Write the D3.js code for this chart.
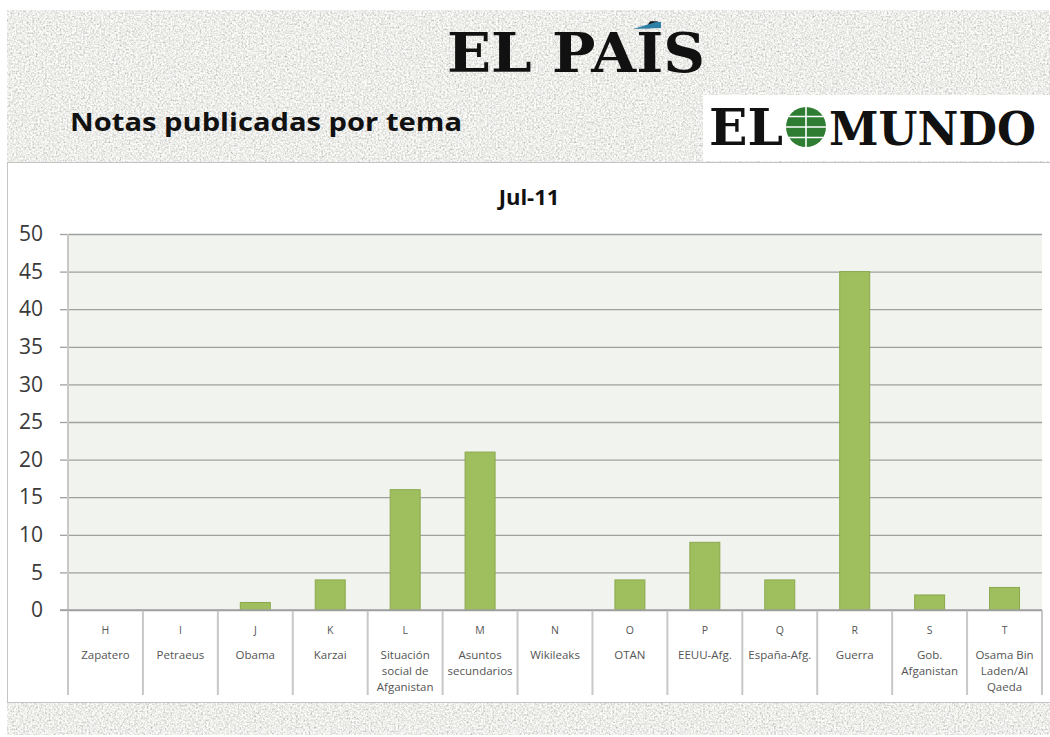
<!DOCTYPE html>
<html>
<head>
<meta charset="utf-8">
<script src="https://cdnjs.cloudflare.com/ajax/libs/d3/7.8.5/d3.min.js"></script>
<style>
  body { margin: 0; background: #fff; }
  svg { display: block; }
</style>
</head>
<body>
<script>
// data
const letters = ["H", "I", "J", "K", "L", "M", "N", "O", "P", "Q", "R", "S", "T"];
const topics = [
  ["Zapatero"],
  ["Petraeus"],
  ["Obama"],
  ["Karzai"],
  ["Situación", "social de", "Afganistan"],
  ["Asuntos", "secundarios"],
  ["Wikileaks"],
  ["OTAN"],
  ["EEUU-Afg."],
  ["España-Afg."],
  ["Guerra"],
  ["Gob.", "Afganistan"],
  ["Osama Bin", "Laden/Al", "Qaeda"],
];
const notas = [0, 0, 1, 4, 16, 21, 0, 4, 9, 4, 45, 2, 3];
const yTicks = [0, 5, 10, 15, 20, 25, 30, 35, 40, 45, 50];
const chartTitle = "Jul-11";
const pageTitle = "Notas publicadas por tema";

const baseWidth = 1050,
  baseHeight = 737;
const plot = { left: 68, right: 1042, top: 234, bottom: 610 };

const svg = d3
  .select("body")
  .append("svg")
  .attr("width", baseWidth)
  .attr("height", baseHeight);

// grainy grey paper texture behind everything
const defs = svg.append("defs");
const grain = defs
  .append("filter")
  .attr("id", "grain")
  .attr("x", 0)
  .attr("y", 0)
  .attr("width", "100%")
  .attr("height", "100%");
grain
  .append("feTurbulence")
  .attr("type", "fractalNoise")
  .attr("baseFrequency", 0.55)
  .attr("numOctaves", 3)
  .attr("seed", 7)
  .attr("result", "noise");
grain
  .append("feColorMatrix")
  .attr("in", "noise")
  .attr("type", "matrix")
  .attr(
    "values",
    "0.6 0.6 0 0 0.24  0.6 0.6 0 0 0.24  0.6 0.6 0 0 0.22  0 0 0 0 1"
  );

svg
  .append("rect")
  .attr("x", 7)
  .attr("y", 10)
  .attr("width", baseWidth - 7)
  .attr("height", baseHeight - 12)
  .attr("filter", "url(#grain)");

const serif = "'DejaVu Serif', 'Liberation Serif', serif";

// EL PAÍS logo
svg
  .append("text")
  .attr("x", 447)
  .attr("y", 72)
  .attr("textLength", 258)
  .attr("lengthAdjust", "spacingAndGlyphs")
  .style("font-family", serif)
  .style("font-weight", "bold")
  .style("font-size", "55px")
  .attr("fill", "#111")
  .text("EL PAÍS");
svg
  .append("path")
  .attr("d", "M633,29 L656,22 L661,22 L661,28 Z")
  .attr("fill", "#2d7fa6");

// EL MUNDO logo on its white box
svg
  .append("rect")
  .attr("x", 703)
  .attr("y", 95)
  .attr("width", baseWidth - 703)
  .attr("height", 66)
  .attr("fill", "#fff");
svg
  .append("text")
  .attr("x", 709)
  .attr("y", 145)
  .attr("textLength", 74)
  .attr("lengthAdjust", "spacingAndGlyphs")
  .style("font-family", serif)
  .style("font-weight", "bold")
  .style("font-size", "50px")
  .attr("fill", "#111")
  .text("EL");
const globe = svg.append("g").attr("transform", "translate(806,127)");
globe.append("circle").attr("r", 20).attr("fill", "#2e7d32");
globe
  .append("g")
  .attr("stroke", "#fff")
  .attr("stroke-width", 1.6)
  .selectAll("line")
  .data([
    [-20, 0, 20, 0],
    [0, -20, 0, 20],
    [-17, -10.5, 17, -10.5],
    [-17, 10.5, 17, 10.5],
  ])
  .enter()
  .append("line")
  .attr("x1", (d) => d[0])
  .attr("y1", (d) => d[1])
  .attr("x2", (d) => d[2])
  .attr("y2", (d) => d[3]);
svg
  .append("text")
  .attr("x", 829)
  .attr("y", 145)
  .attr("textLength", 207)
  .attr("lengthAdjust", "spacingAndGlyphs")
  .style("font-family", serif)
  .style("font-weight", "bold")
  .style("font-size", "47px")
  .attr("fill", "#111")
  .text("MUNDO");

// slide heading
svg
  .append("text")
  .attr("x", 70)
  .attr("y", 131)
  .attr("textLength", 392)
  .attr("lengthAdjust", "spacingAndGlyphs")
  .style("font-family", "'Open Sans', sans-serif")
  .style("font-weight", "bold")
  .style("font-size", "25px")
  .attr("fill", "#111")
  .text(pageTitle);

// chart panel
svg
  .append("rect")
  .attr("x", 7.5)
  .attr("y", 162.5)
  .attr("width", baseWidth)
  .attr("height", 540)
  .attr("fill", "#fff")
  .attr("stroke", "#c4c4c4");

svg
  .append("text")
  .attr("x", 529)
  .attr("y", 205)
  .attr("text-anchor", "middle")
  .style("font-family", "'Open Sans', sans-serif")
  .style("font-weight", "bold")
  .style("font-size", "22px")
  .attr("fill", "#111")
  .text(chartTitle);

// scales
const cell = d3
  .scaleBand()
  .domain(letters)
  .range([plot.left, plot.right])
  .padding(0);
const x = d3
  .scaleBand()
  .domain(letters)
  .range([plot.left, plot.right])
  .paddingInner(0.6)
  .paddingOuter(0.3);
const y = d3.scaleLinear().domain([0, 50]).range([plot.bottom, plot.top]);

svg
  .append("rect")
  .attr("x", plot.left)
  .attr("y", plot.top)
  .attr("width", plot.right - plot.left)
  .attr("height", plot.bottom - plot.top)
  .attr("fill", "#f1f3ee");

// y axis with gridlines across the plot
const yAxis = d3
  .axisLeft(y)
  .tickValues(yTicks)
  .tickSize(8)
  .tickPadding(17)
  .tickFormat(d3.format("d"));
const yg = svg
  .append("g")
  .attr("transform", "translate(" + plot.left + ",0)")
  .call(yAxis);
yg.select(".domain").remove();
yg.selectAll(".tick line").attr("stroke", "#a0a0a0").attr("stroke-width", 1.3);
yg.selectAll(".tick")
  .append("line")
  .attr("x1", 0)
  .attr("x2", plot.right - plot.left)
  .attr("stroke", "#a0a0a0")
  .attr("stroke-width", 1.3);
yg.selectAll(".tick text")
  .style("font-family", "'Open Sans', sans-serif")
  .style("font-size", "21px")
  .attr("fill", "#3a3a3a");

// bars
svg
  .append("g")
  .selectAll("rect")
  .data(letters.filter((d, i) => notas[i] > 0))
  .enter()
  .append("rect")
  .attr("x", (d) => x(d))
  .attr("width", x.bandwidth())
  .attr("y", (d) => y(notas[letters.indexOf(d)]))
  .attr("height", (d) => y(0) - y(notas[letters.indexOf(d)]))
  .attr("fill", "#9fbf5e")
  .attr("stroke", "#8aa84c")
  .attr("stroke-width", 1);

// category table under the axis: left edge runs up as the value axis
svg
  .append("g")
  .attr("stroke", "#c8c8c8")
  .attr("stroke-width", 2)
  .selectAll("line")
  .data(letters.concat(["end"]))
  .enter()
  .append("line")
  .attr("x1", (d) => (d === "end" ? plot.right : cell(d)))
  .attr("x2", (d) => (d === "end" ? plot.right : cell(d)))
  .attr("y1", (d, i) => (i === 0 ? plot.top : plot.bottom))
  .attr("y2", 695);
svg
  .append("line")
  .attr("x1", plot.left - 8)
  .attr("x2", plot.right)
  .attr("y1", plot.bottom)
  .attr("y2", plot.bottom)
  .attr("stroke", "#a0a0a0")
  .attr("stroke-width", 1.5);

const labels = svg
  .append("g")
  .style("font-family", "'Open Sans', sans-serif")
  .style("font-size", "11.5px")
  .attr("fill", "#555")
  .attr("text-anchor", "middle")
  .selectAll("g")
  .data(letters)
  .enter()
  .append("g")
  .attr("transform", (d) => "translate(" + (cell(d) + cell.bandwidth() / 2) + ",0)");
labels
  .append("text")
  .attr("y", 634)
  .style("font-size", "10.5px")
  .text((d) => d);
labels
  .append("text")
  .attr("y", 659)
  .each(function (d, i) {
    topics[i].forEach((line, k) => {
      d3.select(this)
        .append("tspan")
        .attr("x", 0)
        .attr("dy", k === 0 ? 0 : 16)
        .text(line);
    });
  });
</script>
</body>
</html>
